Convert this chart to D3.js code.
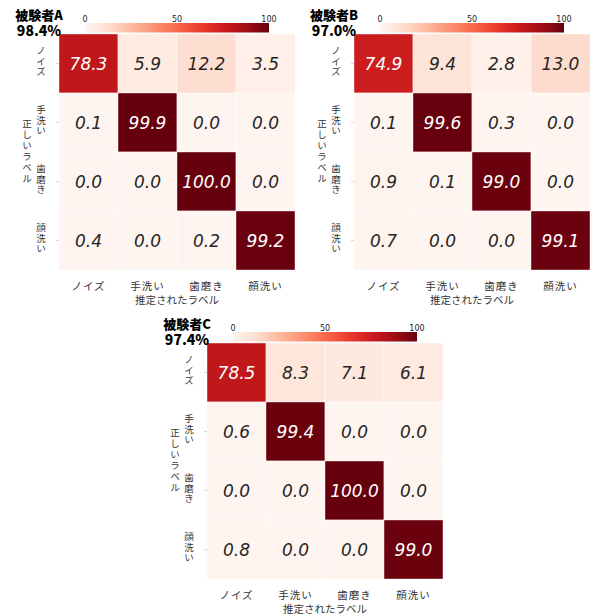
<!DOCTYPE html>
<html>
<head>
<meta charset="utf-8">
<script src="https://cdn.jsdelivr.net/npm/d3@7"></script>
<style>
  body { margin: 0; background: #fff; }
  svg { display: block; }
  .vt { writing-mode: vertical-rl; text-orientation: upright; }
</style>
</head>
<body>
<script>
// class labels (rows = true label, cols = predicted label)
const classes = ["ノイズ", "手洗い", "歯磨き", "顔洗い"];
const subjects = ["被験者A", "被験者B", "被験者C"];
const accuracies = ["98.4%", "97.0%", "97.4%"];
const cbTicks = [0, 50, 100];

// confusion matrices, percent per row
const matA = [
  [78.3, 5.9, 12.2, 3.5],
  [0.1, 99.9, 0.0, 0.0],
  [0.0, 0.0, 100.0, 0.0],
  [0.4, 0.0, 0.2, 99.2],
];
const matB = [
  [74.9, 9.4, 2.8, 13.0],
  [0.1, 99.6, 0.3, 0.0],
  [0.9, 0.1, 99.0, 0.0],
  [0.7, 0.0, 0.0, 99.1],
];
const matC = [
  [78.5, 8.3, 7.1, 6.1],
  [0.6, 99.4, 0.0, 0.0],
  [0.0, 0.0, 100.0, 0.0],
  [0.8, 0.0, 0.0, 99.0],
];

const W = 590, H = 614;
const jp = "'Noto Sans CJK JP', 'Noto Sans', sans-serif";
const color = d3.scaleSequential(d3.interpolateReds).domain([0, 100]);

const svg = d3.select("body").append("svg").attr("width", W).attr("height", H);

// gradient for colorbars
const grad = svg.append("defs").append("linearGradient").attr("id", "cbgrad");
d3.range(0, 101, 5).forEach((v) => {
  grad.append("stop").attr("offset", v + "%").attr("stop-color", color(v));
});

// vertical (top-to-bottom) label centred on (x, yc)
const vtext = (g, str, x, yc, size, spacing) =>
  g.append("text")
    .attr("class", "vt")
    .attr("x", x)
    .attr("y", yc)
    .attr("text-anchor", "middle")
    .attr("font-family", jp)
    .attr("font-size", size)
    .attr("letter-spacing", spacing)
    .attr("fill", "#333")
    .text(str);

const drawPanel = (mat, title, acc, left, top) => {
  const size = 236;
  const g = svg.append("g").attr("transform", `translate(${left},${top})`);

  const x = d3.scaleBand().domain(classes).range([0, size]);
  const y = d3.scaleBand().domain(classes).range([0, size]);

  const cells = [];
  mat.forEach((row, i) =>
    row.forEach((v, j) => cells.push({ r: classes[i], c: classes[j], v }))
  );

  g.selectAll("rect.cell")
    .data(cells)
    .enter()
    .append("rect")
    .attr("class", "cell")
    .attr("x", (d) => x(d.c))
    .attr("y", (d) => y(d.r))
    .attr("width", x.bandwidth())
    .attr("height", y.bandwidth())
    .attr("fill", (d) => color(d.v))
    .attr("stroke", "#fff")
    .attr("stroke-width", 0.4);

  g.selectAll("text.annot")
    .data(cells)
    .enter()
    .append("text")
    .attr("class", "annot")
    .attr("x", (d) => x(d.c) + x.bandwidth() / 2)
    .attr("y", (d) => y(d.r) + y.bandwidth() / 2)
    .attr("text-anchor", "middle")
    .attr("dominant-baseline", "central")
    .attr("font-family", "'DejaVu Sans', sans-serif")
    .attr("font-style", "italic")
    .attr("font-size", 17)
    .attr("fill", (d) => (d.v > 50 ? "#ffffff" : "#262626"))
    .text((d) => d.v.toFixed(1));

  // x tick labels
  g.selectAll("text.xt")
    .data(classes)
    .enter()
    .append("text")
    .attr("class", "xt")
    .attr("x", (d) => x(d) + x.bandwidth() / 2)
    .attr("y", size + 15)
    .attr("text-anchor", "middle")
    .attr("dominant-baseline", "central")
    .attr("font-family", jp)
    .attr("font-size", 10.5)
    .attr("letter-spacing", 1)
    .attr("fill", "#333")
    .text((d) => d);

  g.append("text")
    .attr("x", size / 2)
    .attr("y", size + 29)
    .attr("text-anchor", "middle")
    .attr("dominant-baseline", "central")
    .attr("font-family", jp)
    .attr("font-size", 10.5)
    .attr("fill", "#333")
    .text("推定されたラベル");

  // y tick marks + vertical labels
  classes.forEach((c) => {
    const yc = y(c) + y.bandwidth() / 2;
    g.append("line")
      .attr("x1", -3).attr("x2", 0)
      .attr("y1", yc).attr("y2", yc)
      .attr("stroke", "#bbb").attr("stroke-width", 0.6);
    vtext(g, c, -18, yc - 2, 9.5, 1);
  });
  vtext(g, "正しいラベル", -32, size / 2, 9.5, 1.5);

  // colorbar
  const cb = d3.scaleLinear().domain([0, 100]).range([26, size - 26]);
  g.append("rect")
    .attr("x", cb(0))
    .attr("y", -11)
    .attr("width", cb(100) - cb(0))
    .attr("height", 9.5)
    .attr("fill", "url(#cbgrad)");
  g.selectAll("text.cbt")
    .data(cbTicks)
    .enter()
    .append("text")
    .attr("class", "cbt")
    .attr("x", (d) => cb(d))
    .attr("y", -12.5)
    .attr("text-anchor", "middle")
    .attr("font-family", "'DejaVu Sans', sans-serif")
    .attr("font-size", 8)
    .attr("fill", "#222")
    .text((d) => d);

  // title
  const t = g.append("text")
    .attr("text-anchor", "middle")
    .attr("font-family", jp)
    .attr("font-weight", 900)
    .attr("font-size", 13)
    .attr("fill", "#000");
  t.append("tspan").attr("x", -20).attr("y", -14).text(title);
  t.append("tspan").attr("x", -20).attr("y", 2).attr("font-size", 14).text(acc);
};

drawPanel(matA, subjects[0], accuracies[0], 59, 34);
drawPanel(matB, subjects[1], accuracies[1], 354, 34);
drawPanel(matC, subjects[2], accuracies[2], 207, 343);
</script>
</body>
</html>
